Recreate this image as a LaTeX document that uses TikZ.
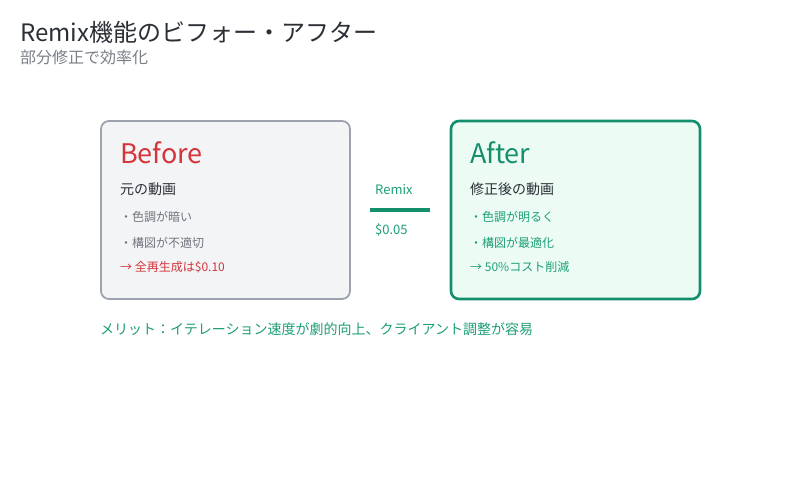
\documentclass[tikz,border=0pt]{standalone}
\usepackage{fontspec}
\setmainfont{Noto Sans CJK JP}
\usetikzlibrary{positioning}
\definecolor{titlecol}{HTML}{2B2F36}
\definecolor{subcol}{HTML}{7A7F87}
\definecolor{redcol}{HTML}{D4343A}
\definecolor{greencol}{HTML}{138F6C}
\definecolor{itemgreen}{HTML}{1E9E78}
\definecolor{graycol}{HTML}{9CA3AF}
\definecolor{grayfill}{HTML}{F3F4F6}
\definecolor{greenfill}{HTML}{ECFCF4}
\definecolor{itemgray}{HTML}{70757D}
\tikzstyle{txt}=[inner sep=0pt,anchor=base west]
\tikzset{
  card/.style={rounded corners=8pt},
  head/.style={txt,font=\fontsize{27}{30}\selectfont},
  sub/.style={txt,font=\fontsize{14}{16}\selectfont,text=titlecol},
  item/.style={txt,font=\fontsize{12}{14}\selectfont}}

\begin{document}
\begin{tikzpicture}[x=1pt,y=-1pt]
  \useasboundingbox (0,0) rectangle (800,500);
  \fill[white] (0,0) rectangle (800,500);

  % TITLE
  \node[txt,font=\fontsize{24}{28}\selectfont,text=titlecol] (title) at (20,42) {Remix機能のビフォー・アフター};
  \node[txt,font=\fontsize{16}{18}\selectfont,text=subcol] (subtitle) at (20,64) {部分修正で効率化};

  % BEFORE
  \draw[card,graycol,line width=1.8pt,fill=grayfill] (101,121) rectangle (350,299);
  \node[head,text=redcol] (before) at (120,163) {Before};
  \node[sub] (orig) at (120,194) {元の動画};
  \node[item,text=itemgray] (b1) at (120,221) {・色調が暗い};
  \node[item,text=itemgray] (b2) at (120,247) {・構図が不適切};
  \node[item,text=redcol] (b3) at (120,271) {→ 全再生成は\$0.10};

  % REMIX
  \coordinate (rl) at (370,210);
  \coordinate (rr) at (430,210);
  \draw[greencol,line width=4pt] (rl) -- (rr);
  \node[item,font=\fontsize{13}{15}\selectfont,text=itemgreen] (remix) at (375,194) {Remix};
  \node[item,font=\fontsize{13}{15}\selectfont,text=itemgreen] (cost) at (375,234) {\$0.05};

  % AFTER
  \draw[card,greencol,line width=2.6pt,fill=greenfill] (451,121) rectangle (700,299);
  \node[head,text=greencol] (after) at (470,163) {After};
  \node[sub] (fixed) at (470,194) {修正後の動画};
  \node[item,text=itemgreen] (a1) at (470,221) {・色調が明るく};
  \node[item,text=itemgreen] (a2) at (470,247) {・構図が最適化};
  \node[item,text=itemgreen] (a3) at (470,271) {→ 50\%コスト削減};

  % MERIT
  \node[txt,font=\fontsize{14}{16}\selectfont,text=itemgreen] (merit) at (100,334) {メリット：イテレーション速度が劇的向上、クライアント調整が容易};
\end{tikzpicture}
\end{document}
